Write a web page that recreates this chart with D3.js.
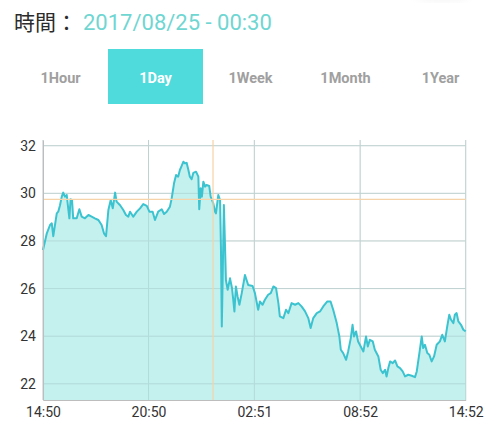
<!DOCTYPE html>
<html><head><meta charset="utf-8">
<script src="https://cdn.jsdelivr.net/npm/d3@7/dist/d3.min.js"></script>
<style>body{margin:0;background:#fff;}svg{display:block;}</style>
</head><body>
<svg id="c" width="500" height="425"></svg>
<script>
// minutes since 14:50 start
const minutes = [0,13,24,30,35,47,52,58,64,69,75,81,86,90,94,99,103,115,124,132,143,155,166,177,189,200,208,215,223,231,238,246,251,263,274,283,291,297,308,320,331,342,354,363,374,382,393,405,413,422,433,439,447,454,461,467,473,479,484,490,496,501,507,513,522,530,533,538,542,547,553,558,567,572,581,587,590,598,604,607,610,613,617,621,624,630,638,645,649,653,658,664,670,678,689,700,715,723,734,740,749,757,768,777,786,795,803,808,820,829,837,848,860,871,882,894,905,913,922,934,945,956,970,981,990,1002,1011,1016,1024,1034,1041,1050,1056,1061,1068,1075,1084,1093,1102,1108,1115,1125,1132,1144,1152,1159,1167,1172,1178,1184,1193,1201,1209,1218,1227,1235,1246,1258,1269,1275,1284,1292,1297,1303,1311,1318,1326,1334,1343,1354,1362,1371,1379,1386,1392,1400,1405,1411,1417,1426,1434,1442];
const temps = [27.62,28.32,28.67,28.74,28.2,29.16,29.23,29.5,29.86,30.03,29.86,29.93,29.37,28.95,29.75,29.72,28.95,28.95,29.33,29.02,28.95,29.09,29.02,28.95,28.88,28.67,28.32,28.2,29.3,29.72,29.37,30.03,29.65,29.5,29.3,29.09,29.02,29.23,29.02,29.23,29.37,29.55,29.47,29.23,29.23,28.88,29.23,29.33,29.13,29.23,29.44,29.79,30.42,30.77,30.7,30.98,31.15,31.33,31.26,31.28,30.98,30.7,30.59,30.86,30.91,30.7,29.33,30.21,29.86,30.49,30.28,30.35,30.31,29.86,29.58,29.23,29.16,29.93,29.72,27.76,24.41,26.5,29.51,27.76,26.36,25.95,26.43,26.0,25.53,25.04,26.09,25.66,25.32,25.81,26.57,26.15,26.11,25.81,25.11,25.46,25.32,25.53,25.74,25.81,26.09,26.02,25.39,24.83,24.76,25.11,24.97,25.39,25.32,25.39,25.25,25.04,24.76,24.34,24.76,24.97,25.04,25.25,25.46,25.46,25.11,24.55,23.99,23.43,23.29,23.01,23.36,23.92,24.48,23.99,24.2,23.78,23.57,23.36,23.99,23.57,23.85,23.78,23.43,23.15,22.59,22.45,22.59,22.31,22.66,22.94,22.87,22.98,22.73,22.66,22.52,22.31,22.38,22.34,22.28,22.52,23.29,23.99,23.5,23.64,23.29,23.22,22.94,23.15,23.64,23.78,24.06,23.78,24.41,24.9,24.69,24.55,24.9,24.97,24.62,24.48,24.27,24.2];
const xTickMinutes = [0,360,721,1082,1442];
const xTickLabels = ["14:50","20:50","02:51","08:52","14:52"];
const yTicks = [22,24,26,28,30,32];
const ranges = ["1Hour","1Day","1Week","1Month","1Year"];
const selectedRange = "1Day";
const selectedMinute = 580;
const selectedValue = 29.75;
const headerLabel = "時間：";
const headerValue = "2017/08/25 - 00:30";

const svg = d3.select("#c");
const font = "Roboto, 'Noto Sans', sans-serif";

// faint shadow top right
const defs = svg.append("defs");
defs.append("filter").attr("id","blur").append("feGaussianBlur").attr("stdDeviation",4);
svg.append("ellipse").attr("cx",442).attr("cy",-5).attr("rx",26).attr("ry",6)
  .attr("fill","#e6e6e6").attr("filter","url(#blur)").attr("opacity",0.45);

// header
svg.append("text").attr("x",14).attr("y",30).attr("font-family","'Noto Sans CJK TC', 'Noto Sans CJK JP', sans-serif")
  .attr("font-size",21).attr("font-weight",400).attr("fill","#2b2b2b").text(headerLabel);
svg.append("text").attr("x",83).attr("y",30).attr("font-family",font)
  .attr("font-size",22).attr("fill","#6fd6d2").text(headerValue);

// range buttons
const bx = d3.scaleBand().domain(ranges).range([13,488]);
const btn = svg.append("g");
btn.selectAll("rect").data(ranges.filter(r=>r===selectedRange)).join("rect")
  .attr("x",d=>bx(d)).attr("y",49).attr("width",bx.bandwidth()).attr("height",55).attr("fill","#4fdadb");
btn.selectAll("text").data(ranges).join("text")
  .attr("x",d=>bx(d)+bx.bandwidth()/2).attr("y",83).attr("text-anchor","middle")
  .attr("font-family",font).attr("font-size",14.5).attr("font-weight",700)
  .attr("fill",d=>d===selectedRange?"#fff":"#a0a0a0").text(d=>d);

// chart
const L=43, R=465.7, T=140, B=400;
const x = d3.scaleLinear().domain([0,1442]).range([L,R]);
const y = d3.scaleLinear().domain([21.32,32.24]).range([B,T]);

const grid = svg.append("g").attr("stroke","#d6d6d6").attr("stroke-width",1);
grid.selectAll("line.h").data(yTicks).join("line").attr("class","h")
  .attr("x1",L).attr("x2",R).attr("y1",d=>y(d)).attr("y2",d=>y(d));
grid.selectAll("line.v").data(xTickMinutes).join("line").attr("class","v")
  .attr("x1",d=>x(d)).attr("x2",d=>x(d)).attr("y1",T).attr("y2",B);

const data = minutes.map((m,i)=>({m, v:temps[i]}));
svg.append("path").datum(data)
  .attr("d", d3.area().x(d=>x(d.m)).y0(B).y1(d=>y(d.v)))
  .attr("fill","#b5ecea").attr("opacity",0.8);

// gridlines over fill faintly
const grid2 = svg.append("g").attr("stroke","#a8cfcd").attr("stroke-width",1).attr("opacity",0.5);
grid2.selectAll("line.h").data(yTicks).join("line")
  .attr("x1",L).attr("x2",R).attr("y1",d=>y(d)).attr("y2",d=>y(d));
grid2.selectAll("line.v").data(xTickMinutes).join("line")
  .attr("x1",d=>x(d)).attr("x2",d=>x(d)).attr("y1",T).attr("y2",B);

svg.append("path").datum(data)
  .attr("d", d3.line().x(d=>x(d.m)).y(d=>y(d.v)))
  .attr("fill","none").attr("stroke","#3cc3d0").attr("stroke-width",2).attr("stroke-linejoin","round");

// highlight
svg.append("line").attr("x1",x(selectedMinute)).attr("x2",x(selectedMinute)).attr("y1",T).attr("y2",B)
  .attr("stroke","#f6d3a8").attr("stroke-width",1.2);
svg.append("line").attr("x1",L).attr("x2",R).attr("y1",y(selectedValue)).attr("y2",y(selectedValue))
  .attr("stroke","#f6d3a8").attr("stroke-width",1.2);

// axes
const yAxis = svg.append("g").attr("transform",`translate(${L},0)`)
  .call(d3.axisLeft(y).tickValues(yTicks).tickSize(0).tickPadding(7));
yAxis.select(".domain").attr("stroke","#bdbdbd");
yAxis.selectAll("text").attr("font-family",font).attr("font-size",14).attr("fill","#333");

const xAxis = svg.append("g").attr("transform",`translate(0,${B})`)
  .call(d3.axisBottom(x).tickValues(xTickMinutes).tickFormat((d,i)=>xTickLabels[i]).tickSize(0).tickPadding(7));
xAxis.select(".domain").attr("stroke","#bdbdbd");
xAxis.selectAll("text").attr("font-family",font).attr("font-size",14).attr("fill","#333");
</script>
</body></html>
